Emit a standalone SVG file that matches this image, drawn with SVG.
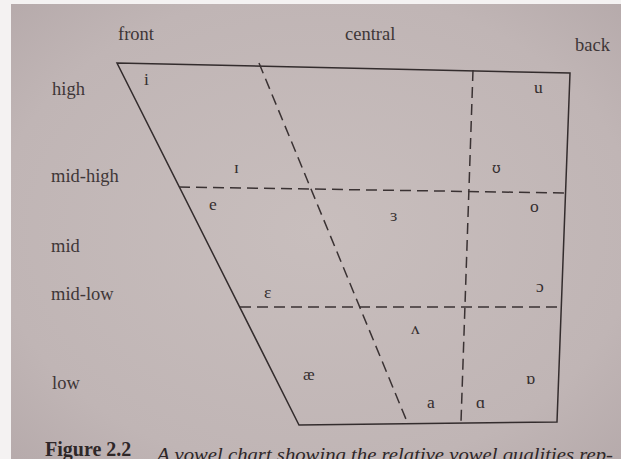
<svg xmlns="http://www.w3.org/2000/svg" width="621" height="459" viewBox="0 0 621 459">
  <defs>
    <radialGradient id="paper" cx="50%" cy="50%" r="75%">
      <stop offset="0" stop-color="#c8bebd"/>
      <stop offset="0.7" stop-color="#c0b5b5"/>
      <stop offset="1" stop-color="#b4a8a9"/>
    </radialGradient>
    <style>
      .lbl { font-family: "Liberation Serif", "DejaVu Serif", serif; font-size: 18.5px; fill: #3e3637; }
      .v { font-family: "Liberation Serif", "DejaVu Serif", serif; font-size: 17.5px; fill: #352e2f; }
      .v2 { font-family: "DejaVu Serif", serif; font-size: 14px; fill: #352e2f; }
      .solid { fill: none; stroke: #332c2d; stroke-width: 1.5; stroke-linejoin: miter; }
      .dash { fill: none; stroke: #3a3233; stroke-width: 1.5; stroke-dasharray: 11 6; }
      .capb { font-family: "Liberation Serif", "DejaVu Serif", serif; font-size: 20px; font-weight: bold; fill: #2e2728; }
      .capi { font-family: "Liberation Serif", "DejaVu Serif", serif; font-size: 18px; font-style: italic; fill: #2e2728; }
    </style>
  </defs>

  <rect x="0" y="0" width="621" height="459" fill="#f4f2f2"/>
  <rect x="11" y="4" width="610" height="455" fill="url(#paper)"/>

  <g id="chart-outline">
    <path class="solid" d="M117,63 L570,73 L557,422 L299,425 Z"/>
  </g>

  <g id="connectors">
    <path class="dash" d="M259,63 L408,424"/>
    <path class="dash" d="M473,70 L461,422"/>
    <path class="dash" d="M179,187 L566,193"/>
    <path class="dash" d="M240,307 L561,307"/>
  </g>

  <g id="axis-labels">
    <g id="lbl-front"><text class="lbl" x="118" y="40">front</text></g>
    <g id="lbl-central"><text class="lbl" x="345" y="40">central</text></g>
    <g id="lbl-back"><text class="lbl" x="575" y="51">back</text></g>
    <g id="lbl-high"><text class="lbl" x="52" y="95">high</text></g>
    <g id="lbl-midhigh"><text class="lbl" x="51" y="182">mid-high</text></g>
    <g id="lbl-mid"><text class="lbl" x="51" y="252">mid</text></g>
    <g id="lbl-midlow"><text class="lbl" x="51" y="300">mid-low</text></g>
    <g id="lbl-low"><text class="lbl" x="52" y="389">low</text></g>
  </g>

  <g id="vowels">
    <g id="v-i"><text class="v" x="144" y="85">i</text></g>
    <g id="v-u"><text class="v" x="534" y="93">u</text></g>
    <g id="v-I"><text class="v" x="234" y="173">ɪ</text></g>
    <g id="v-U"><text class="v2" x="492" y="173">ʊ</text></g>
    <g id="v-e"><text class="v" x="209" y="210">e</text></g>
    <g id="v-3"><text class="v" x="390" y="221">ɜ</text></g>
    <g id="v-o"><text class="v" x="530" y="212">o</text></g>
    <g id="v-E"><text class="v" x="264" y="298">ɛ</text></g>
    <g id="v-c"><text class="v" x="536" y="292">ɔ</text></g>
    <g id="v-V"><text class="v" x="411" y="334">ʌ</text></g>
    <g id="v-ae"><text class="v" x="303" y="380">æ</text></g>
    <g id="v-a"><text class="v" x="427" y="408">a</text></g>
    <g id="v-A"><text class="v" x="476" y="408">ɑ</text></g>
    <g id="v-Q"><text class="v" x="526" y="384">ɒ</text></g>
  </g>

  <g id="caption">
    <text class="capb" x="45" y="456">Figure 2.2</text>
    <text class="capi" x="157" y="461" textLength="456" lengthAdjust="spacingAndGlyphs">A vowel chart showing the relative vowel qualities rep-</text>
  </g>
</svg>
